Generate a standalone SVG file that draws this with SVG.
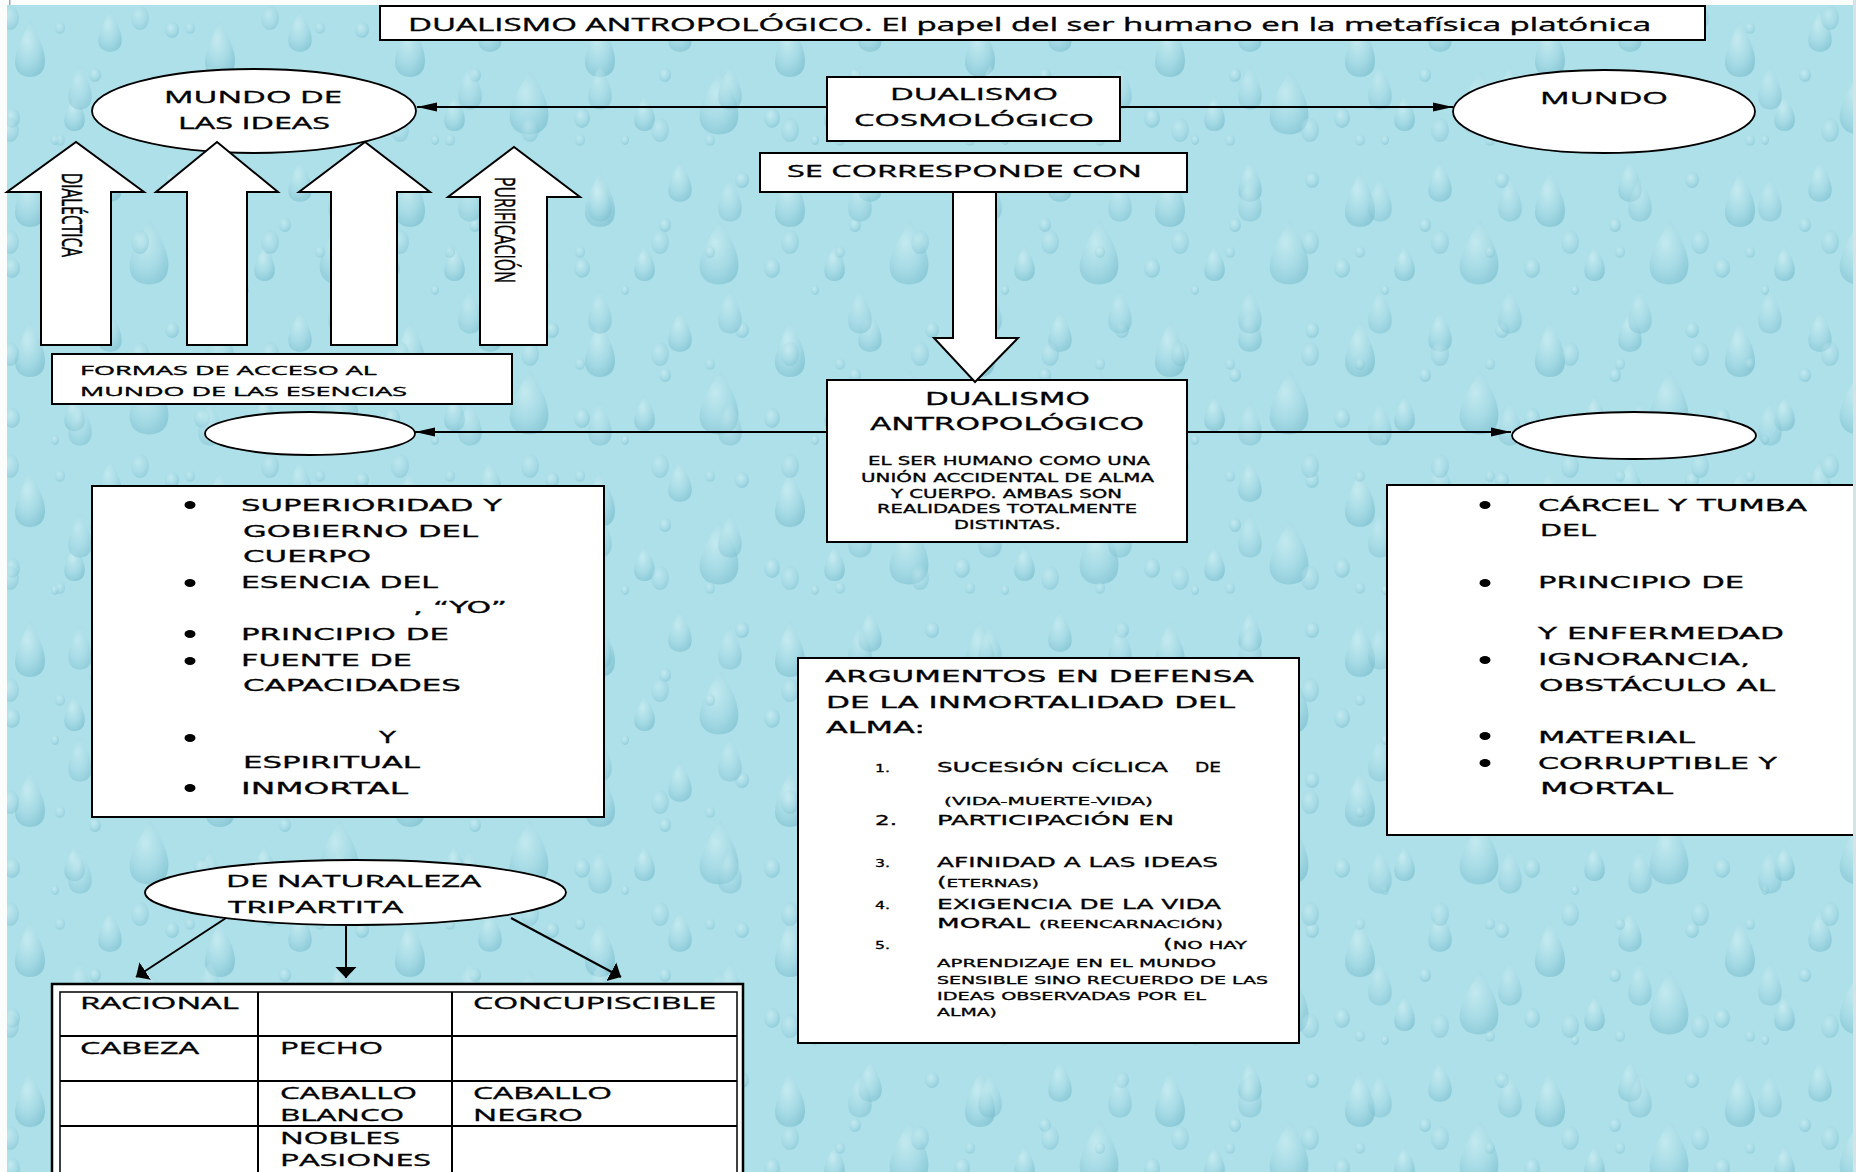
<svg xmlns="http://www.w3.org/2000/svg" width="1856" height="1172" viewBox="0 0 1856 1172">
<defs>
<style>
.box{fill:#fff;stroke:#000;stroke-width:2}
.ell{fill:#fff;stroke:#000;stroke-width:1.8}
.blk{fill:#fff;stroke:#000;stroke-width:2;stroke-linejoin:miter}
.ln{stroke:#000;stroke-width:2;fill:none}
.cal{font-family:'Open Sans','Liberation Sans',sans-serif;fill:#000;stroke:#000;stroke-width:0.35}
.cg{font-family:'DejaVu Sans','Liberation Sans',sans-serif;fill:#000;stroke:#000;stroke-width:0.3}
.dot{fill:#000}
</style>
<marker id="ah" markerWidth="20" markerHeight="10" refX="20" refY="5" orient="auto" markerUnits="userSpaceOnUse"><path d="M0,0.5 L20,5 L0,9.5 z" fill="#000"/></marker>
<marker id="ah2" markerWidth="12" markerHeight="22" refX="11" refY="11" orient="auto" markerUnits="userSpaceOnUse"><path d="M0,0.5 L11,11 L0,21.5 z" fill="#000"/></marker>
<radialGradient id="dg" cx="0.4" cy="0.35" r="0.7">
<stop offset="0" stop-color="#d8f2f6"/>
<stop offset="0.6" stop-color="#9fd6e1"/>
<stop offset="1" stop-color="#6fb6c8"/>
</radialGradient>
<pattern id="drops" width="190" height="150" patternUnits="userSpaceOnUse">
<rect width="190" height="150" fill="#ade0e9"/>
<path d="M30,20 C40,40 48,55 44,68 C40,80 20,80 16,68 C12,56 22,38 30,20 z" fill="url(#dg)" opacity="0.55"/>
<path d="M110,10 C118,24 124,36 121,45 C118,54 102,54 99,45 C96,36 103,24 110,10 z" fill="url(#dg)" opacity="0.5"/>
<path d="M150,70 C164,92 172,110 167,124 C162,138 136,138 131,124 C126,110 137,92 150,70 z" fill="url(#dg)" opacity="0.5"/>
<path d="M75,95 C82,107 87,117 84,125 C81,133 68,133 65,125 C62,117 68,107 75,95 z" fill="url(#dg)" opacity="0.55"/>
<ellipse cx="95" cy="75" rx="6" ry="7" fill="url(#dg)" opacity="0.5"/>
<ellipse cx="12" cy="118" rx="8" ry="10" fill="url(#dg)" opacity="0.5"/>
<ellipse cx="172" cy="30" rx="7" ry="8" fill="url(#dg)" opacity="0.5"/>
<ellipse cx="55" cy="140" rx="4" ry="5" fill="url(#dg)" opacity="0.5"/>
</pattern>
<pattern id="drops2" width="130" height="112" patternUnits="userSpaceOnUse" patternTransform="translate(40,50)">
<path d="M40,15 C48,30 54,42 51,52 C48,62 32,62 29,52 C26,42 32,30 40,15 z" fill="url(#dg)" opacity="0.4"/>
<ellipse cx="100" cy="80" rx="9" ry="12" fill="url(#dg)" opacity="0.4"/>
<ellipse cx="20" cy="90" rx="5" ry="6" fill="url(#dg)" opacity="0.4"/>
</pattern>
</defs>

<g id="background">
<rect x="0" y="0" width="1856" height="1172" fill="url(#drops)"/>
<rect x="0" y="0" width="1856" height="1172" fill="url(#drops2)"/>
<rect x="0" y="0" width="1856" height="5" fill="#fbfdfd"/>
<rect x="0" y="0" width="7" height="1172" fill="#fbfdfd"/>
<rect x="9" y="0" width="1.5" height="5" fill="#9aa9ad"/>
</g>

<g id="title">
<rect class="box" x="380" y="6" width="1325" height="34"/>
<text class="cal" x="408" y="31" font-size="18" textLength="1243" lengthAdjust="spacingAndGlyphs">DUALISMO ANTROPOLÓGICO. El papel del ser humano en la metafísica platónica</text>
</g>

<g id="mundo-ideas">
<ellipse class="ell" cx="254" cy="111" rx="162" ry="42"/>
<text class="cal" x="164" y="103" font-size="17" textLength="178" lengthAdjust="spacingAndGlyphs">MUNDO DE</text>
<text class="cal" x="178" y="129" font-size="17" textLength="152" lengthAdjust="spacingAndGlyphs">LAS IDEAS</text>
</g>

<g id="dualismo-cosmologico">
<rect class="box" x="827" y="77" width="293" height="64"/>
<text class="cal" x="890" y="100" font-size="17" textLength="168" lengthAdjust="spacingAndGlyphs">DUALISMO</text>
<text class="cal" x="854" y="126" font-size="17" textLength="240" lengthAdjust="spacingAndGlyphs">COSMOLÓGICO</text>
</g>

<g id="mundo">
<ellipse class="ell" cx="1604" cy="111.5" rx="151" ry="41.5"/>
<text class="cal" x="1540" y="104" font-size="17" textLength="128" lengthAdjust="spacingAndGlyphs">MUNDO</text>
</g>

<g id="se-corresponde">
<rect class="box" x="760" y="153" width="427" height="39"/>
<text class="cal" x="787" y="177" font-size="17" textLength="355" lengthAdjust="spacingAndGlyphs">SE CORRESPONDE CON</text>
</g>

<g id="formas-acceso">
<rect class="box" x="52" y="354" width="460" height="50"/>
<text class="cal" x="80" y="375" font-size="13" textLength="297" lengthAdjust="spacingAndGlyphs">FORMAS DE ACCESO AL</text>
<text class="cal" x="80" y="396" font-size="13" textLength="327" lengthAdjust="spacingAndGlyphs">MUNDO DE LAS ESENCIAS</text>
</g>

<g id="dualismo-antropologico">
<rect class="box" x="827" y="380" width="360" height="162"/>
<text class="cg" x="925" y="405" font-size="18" textLength="165" lengthAdjust="spacingAndGlyphs">DUALISMO</text>
<text class="cg" x="870" y="430" font-size="18" textLength="274" lengthAdjust="spacingAndGlyphs">ANTROPOLÓGICO</text>
<text class="cg" x="868" y="465" font-size="11.5" textLength="282" lengthAdjust="spacingAndGlyphs">EL SER HUMANO COMO UNA</text>
<text class="cg" x="861" y="482" font-size="11.5" textLength="293" lengthAdjust="spacingAndGlyphs">UNIÓN ACCIDENTAL DE ALMA</text>
<text class="cg" x="891" y="498" font-size="11.5" textLength="231" lengthAdjust="spacingAndGlyphs">Y CUERPO. AMBAS SON</text>
<text class="cg" x="877" y="513" font-size="11.5" textLength="260" lengthAdjust="spacingAndGlyphs">REALIDADES TOTALMENTE</text>
<text class="cg" x="954" y="529" font-size="11.5" textLength="107" lengthAdjust="spacingAndGlyphs">DISTINTAS.</text>
</g>

<g id="alma-ellipse">
<ellipse class="ell" cx="310" cy="433.5" rx="105" ry="21.5"/>
</g>

<g id="cuerpo-ellipse">
<ellipse class="ell" cx="1634" cy="435.5" rx="122" ry="23.5"/>
</g>

<g id="alma-box">
<rect class="box" x="92" y="486" width="512" height="331"/>
<ellipse class="dot" cx="190" cy="505" rx="5.5" ry="4"/>
<ellipse class="dot" cx="190" cy="583" rx="5.5" ry="4"/>
<ellipse class="dot" cx="190" cy="634" rx="5.5" ry="4"/>
<ellipse class="dot" cx="190" cy="661" rx="5.5" ry="4"/>
<ellipse class="dot" cx="190" cy="738" rx="5.5" ry="4"/>
<ellipse class="dot" cx="190" cy="788" rx="5.5" ry="4"/>
<text class="cg" x="241" y="511" font-size="16.5" textLength="261" lengthAdjust="spacingAndGlyphs">SUPERIORIDAD Y</text>
<text class="cg" x="243" y="537" font-size="16.5" textLength="235" lengthAdjust="spacingAndGlyphs">GOBIERNO DEL</text>
<text class="cg" x="243" y="562" font-size="16.5" textLength="128" lengthAdjust="spacingAndGlyphs">CUERPO</text>
<text class="cg" x="241" y="588" font-size="16.5" textLength="197" lengthAdjust="spacingAndGlyphs">ESENCIA DEL</text>
<text class="cg" x="413" y="613" font-size="16.5" textLength="94" lengthAdjust="spacingAndGlyphs">, “YO”</text>
<text class="cg" x="241" y="640" font-size="16.5" textLength="208" lengthAdjust="spacingAndGlyphs">PRINCIPIO DE</text>
<text class="cg" x="241" y="666" font-size="16.5" textLength="171" lengthAdjust="spacingAndGlyphs">FUENTE DE</text>
<text class="cg" x="243" y="691" font-size="16.5" textLength="218" lengthAdjust="spacingAndGlyphs">CAPACIDADES</text>
<text class="cg" x="379" y="743" font-size="16.5" textLength="17" lengthAdjust="spacingAndGlyphs">Y</text>
<text class="cg" x="243" y="768" font-size="16.5" textLength="177" lengthAdjust="spacingAndGlyphs">ESPIRITUAL</text>
<text class="cg" x="241" y="794" font-size="16.5" textLength="167" lengthAdjust="spacingAndGlyphs">INMORTAL</text>
</g>

<g id="cuerpo-box">
<rect class="box" x="1387" y="485" width="472" height="350"/>
<ellipse class="dot" cx="1485" cy="505" rx="5.5" ry="4"/>
<ellipse class="dot" cx="1485" cy="583" rx="5.5" ry="4"/>
<ellipse class="dot" cx="1485" cy="660" rx="5.5" ry="4"/>
<ellipse class="dot" cx="1485" cy="736" rx="5.5" ry="4"/>
<ellipse class="dot" cx="1485" cy="763" rx="5.5" ry="4"/>
<text class="cg" x="1538" y="511" font-size="16.5" textLength="269" lengthAdjust="spacingAndGlyphs">CÁRCEL Y TUMBA</text>
<text class="cg" x="1540" y="536" font-size="16.5" textLength="56" lengthAdjust="spacingAndGlyphs">DEL</text>
<text class="cg" x="1538" y="588" font-size="16.5" textLength="206" lengthAdjust="spacingAndGlyphs">PRINCIPIO DE</text>
<text class="cg" x="1538" y="639" font-size="16.5" textLength="246" lengthAdjust="spacingAndGlyphs">Y ENFERMEDAD</text>
<text class="cg" x="1538" y="665" font-size="16.5" textLength="212" lengthAdjust="spacingAndGlyphs">IGNORANCIA,</text>
<text class="cg" x="1539" y="691" font-size="16.5" textLength="236" lengthAdjust="spacingAndGlyphs">OBSTÁCULO AL</text>
<text class="cg" x="1538" y="743" font-size="16.5" textLength="157" lengthAdjust="spacingAndGlyphs">MATERIAL</text>
<text class="cg" x="1538" y="769" font-size="16.5" textLength="239" lengthAdjust="spacingAndGlyphs">CORRUPTIBLE Y</text>
<text class="cg" x="1540" y="794" font-size="16.5" textLength="133" lengthAdjust="spacingAndGlyphs">MORTAL</text>
</g>

<g id="argumentos">
<rect class="box" x="798" y="658" width="501" height="385"/>
<text class="cg" x="825" y="682" font-size="16" textLength="429" lengthAdjust="spacingAndGlyphs">ARGUMENTOS EN DEFENSA</text>
<text class="cg" x="826" y="708" font-size="16" textLength="409" lengthAdjust="spacingAndGlyphs">DE LA INMORTALIDAD DEL</text>
<text class="cg" x="826" y="733" font-size="16" textLength="99" lengthAdjust="spacingAndGlyphs">ALMA:</text>
<text class="cg" x="875" y="772" font-size="10" textLength="15" lengthAdjust="spacingAndGlyphs">1.</text>
<text class="cg" x="937" y="772" font-size="13.5" textLength="231" lengthAdjust="spacingAndGlyphs">SUCESIÓN CÍCLICA</text>
<text class="cg" x="1195" y="772" font-size="13.5" textLength="26" lengthAdjust="spacingAndGlyphs">DE</text>
<text class="cg" x="944" y="805" font-size="10.5" textLength="209" lengthAdjust="spacingAndGlyphs">(VIDA-MUERTE-VIDA)</text>
<text class="cg" x="875" y="825" font-size="13.5" textLength="22" lengthAdjust="spacingAndGlyphs">2.</text>
<text class="cg" x="937" y="825" font-size="13.5" textLength="237" lengthAdjust="spacingAndGlyphs">PARTICIPACIÓN EN</text>
<text class="cg" x="875" y="867" font-size="10" textLength="15" lengthAdjust="spacingAndGlyphs">3.</text>
<text class="cg" x="937" y="867" font-size="13.5" textLength="281" lengthAdjust="spacingAndGlyphs">AFINIDAD A LAS IDEAS</text>
<text class="cg" x="937" y="887" font-size="10.5" textLength="102" lengthAdjust="spacingAndGlyphs"><tspan font-size="14">(</tspan>ETERNAS)</text>
<text class="cg" x="875" y="909" font-size="10" textLength="15" lengthAdjust="spacingAndGlyphs">4.</text>
<text class="cg" x="937" y="909" font-size="13.5" textLength="284" lengthAdjust="spacingAndGlyphs">EXIGENCIA DE LA VIDA</text>
<text class="cg" x="937" y="928" font-size="13.5" textLength="93" lengthAdjust="spacingAndGlyphs">MORAL</text>
<text class="cg" x="1039" y="928" font-size="10.5" textLength="184" lengthAdjust="spacingAndGlyphs">(REENCARNACIÓN)</text>
<text class="cg" x="875" y="949" font-size="10" textLength="15" lengthAdjust="spacingAndGlyphs">5.</text>
<text class="cg" x="1163" y="949" font-size="11" textLength="84" lengthAdjust="spacingAndGlyphs"><tspan font-size="14">(</tspan>NO HAY</text>
<text class="cg" x="937" y="967" font-size="11" textLength="279" lengthAdjust="spacingAndGlyphs">APRENDIZAJE EN EL MUNDO</text>
<text class="cg" x="937" y="984" font-size="11" textLength="331" lengthAdjust="spacingAndGlyphs">SENSIBLE SINO RECUERDO DE LAS</text>
<text class="cg" x="937" y="1000" font-size="11" textLength="269" lengthAdjust="spacingAndGlyphs">IDEAS OBSERVADAS POR EL</text>
<text class="cg" x="937" y="1016" font-size="11" textLength="60" lengthAdjust="spacingAndGlyphs">ALMA)</text>
</g>

<g id="tripartita">
<ellipse class="ell" cx="355.5" cy="892.5" rx="210.5" ry="32.5"/>
<text class="cal" x="226" y="887" font-size="16.5" textLength="255" lengthAdjust="spacingAndGlyphs">DE NATURALEZA</text>
<text class="cal" x="228" y="913" font-size="16.5" textLength="175" lengthAdjust="spacingAndGlyphs">TRIPARTITA</text>
</g>

<g id="tabla">
<rect x="52" y="984" width="691" height="200" fill="#fff" stroke="#000" stroke-width="2.5"/>
<rect x="60" y="992" width="677" height="190" fill="#fff" stroke="#000" stroke-width="1.5"/>
<line class="ln" x1="258" y1="992" x2="258" y2="1180" stroke-width="1.5"/>
<line class="ln" x1="452" y1="992" x2="452" y2="1180" stroke-width="1.5"/>
<line class="ln" x1="60" y1="1036" x2="737" y2="1036" stroke-width="1.5"/>
<line class="ln" x1="60" y1="1081" x2="737" y2="1081" stroke-width="1.5"/>
<line class="ln" x1="60" y1="1126" x2="737" y2="1126" stroke-width="1.5"/>
<text class="cal" x="80" y="1009" font-size="16.5" textLength="159" lengthAdjust="spacingAndGlyphs">RACIONAL</text>
<text class="cal" x="473" y="1009" font-size="16.5" textLength="243" lengthAdjust="spacingAndGlyphs">CONCUPISCIBLE</text>
<text class="cal" x="80" y="1054" font-size="16.5" textLength="119" lengthAdjust="spacingAndGlyphs">CABEZA</text>
<text class="cal" x="280" y="1054" font-size="16.5" textLength="103" lengthAdjust="spacingAndGlyphs">PECHO</text>
<text class="cal" x="280" y="1099" font-size="16.5" textLength="137" lengthAdjust="spacingAndGlyphs">CABALLO</text>
<text class="cal" x="280" y="1121" font-size="16.5" textLength="124" lengthAdjust="spacingAndGlyphs">BLANCO</text>
<text class="cal" x="473" y="1099" font-size="16.5" textLength="139" lengthAdjust="spacingAndGlyphs">CABALLO</text>
<text class="cal" x="473" y="1121" font-size="16.5" textLength="110" lengthAdjust="spacingAndGlyphs">NEGRO</text>
<text class="cal" x="280" y="1144" font-size="16.5" textLength="120" lengthAdjust="spacingAndGlyphs">NOBLES</text>
<text class="cal" x="280" y="1166" font-size="16.5" textLength="151" lengthAdjust="spacingAndGlyphs">PASIONES</text>
</g>

<g id="connectors">
<line class="ln" x1="827" y1="107" x2="417" y2="107" marker-end="url(#ah)"/>
<line class="ln" x1="1120" y1="107" x2="1453" y2="107" marker-end="url(#ah)"/>
<line class="ln" x1="827" y1="432" x2="415" y2="432" marker-end="url(#ah)"/>
<line class="ln" x1="1187" y1="432" x2="1511" y2="432" marker-end="url(#ah)"/>
<line class="ln" x1="226" y1="918" x2="136" y2="977" marker-end="url(#ah2)"/>
<line class="ln" x1="346" y1="926" x2="346" y2="978" marker-end="url(#ah2)"/>
<line class="ln" x1="511" y1="918" x2="621" y2="977" marker-end="url(#ah2)"/>
<polygon class="blk" points="953,192 996,192 996,338 1018,338 975,382 934,338 953,338"/>
<polygon class="blk" points="41,345 41,192 7,192 76,142 144,192 111,192 111,345"/>
<polygon class="blk" points="187,345 187,192 156,192 217,142 278,192 247,192 247,345"/>
<polygon class="blk" points="331,345 331,192 299,192 365,142 430,192 397,192 397,345"/>
<polygon class="blk" points="480,345 480,197 448,197 514,147 580,197 547,197 547,345"/>
<text class="cal" transform="translate(62,215) scale(1.55,1) rotate(90)" x="0" y="0" text-anchor="middle" font-size="18" textLength="84" lengthAdjust="spacingAndGlyphs">DIALÉCTICA</text>
<text class="cal" transform="translate(495,230) scale(1.55,1) rotate(90)" x="0" y="0" text-anchor="middle" font-size="18" textLength="106" lengthAdjust="spacingAndGlyphs">PURIFICACIÓN</text>
</g>

<rect x="1853" y="0" width="3" height="1172" fill="#d3e3e6"/>
</svg>
